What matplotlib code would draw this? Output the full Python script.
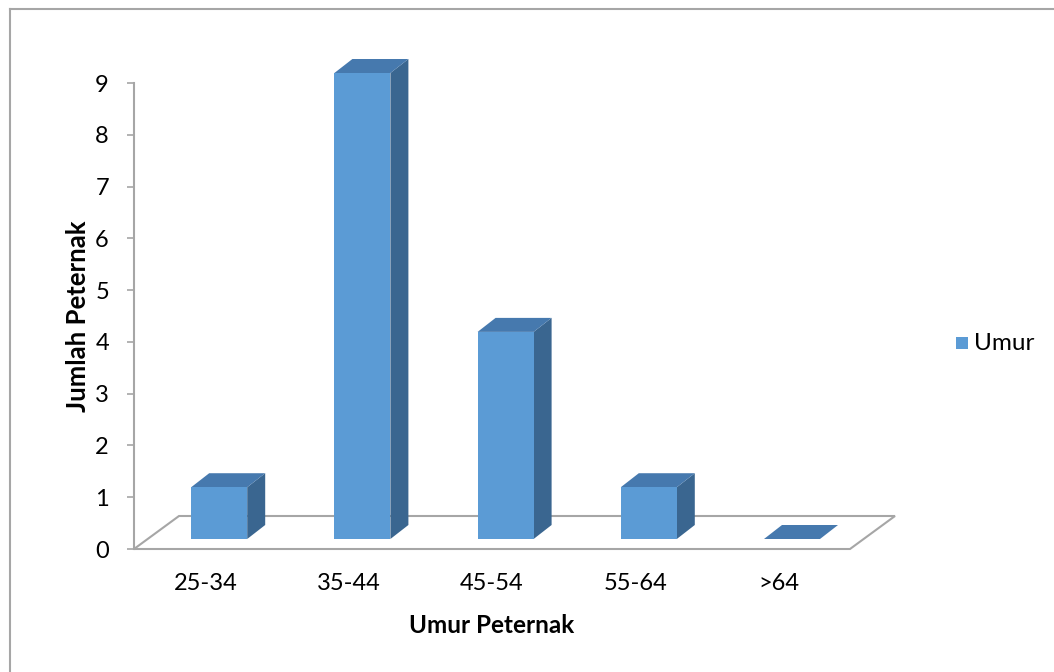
import matplotlib
matplotlib.use("Agg")
import matplotlib.pyplot as plt
from matplotlib.patches import Polygon, Rectangle
from matplotlib.lines import Line2D

categories = ["25-34", "35-44", "45-54", "55-64", ">64"]
counts = [1, 9, 4, 1, 0]
y_ticks = [0, 1, 2, 3, 4, 5, 6, 7, 8, 9]
series_name = "Umur"
x_title = "Umur Peternak"
y_title = "Jumlah Peternak"

FRONT = "#5B9BD5"
TOP = "#4679AE"
SIDE = "#3A6690"
GRID = "#A6A6A6"

plt.rcParams["font.family"] = ["Lato", "DejaVu Sans"]

W, H = 1054, 672
fig = plt.figure(figsize=(W / 100, H / 100), dpi=100)

# plot area: category axis along x, value axis along y
left, right, bottom, top = 134, 850, 549, 83
ax = fig.add_axes([left / W, (H - bottom) / H, (right - left) / W, (bottom - top) / H])
ax.set_xlim(0, len(categories))
ax.set_ylim(0, 9)

px_x = len(categories) / (right - left)   # data units per pixel
px_y = 9 / (bottom - top)

# floor depth and bar depth (oblique projection offsets)
floor_dx, floor_dy = 45 * px_x, 33 * px_y
bar_off_x, bar_off_y = 13.6 * px_x, 10 * px_y
bar_dx, bar_dy = 18 * px_x, 14 * px_y
bar_w = 56 * px_x

n = len(categories)
floor = Polygon([(0, 0), (n, 0), (n + floor_dx, floor_dy), (floor_dx, floor_dy)],
                closed=True, facecolor="white", edgecolor=GRID, linewidth=1.5,
                clip_on=False, zorder=1)
ax.add_patch(floor)

for i, v in enumerate(counts):
    x0 = i + 0.5 - bar_w / 2 + bar_off_x
    y0 = bar_off_y
    x1 = x0 + bar_w
    y1 = y0 + v
    side = Polygon([(x1, y0), (x1 + bar_dx, y0 + bar_dy), (x1 + bar_dx, y1 + bar_dy), (x1, y1)],
                   closed=True, facecolor=SIDE, edgecolor="none", clip_on=False, zorder=3)
    topf = Polygon([(x0, y1), (x0 + bar_dx, y1 + bar_dy), (x1 + bar_dx, y1 + bar_dy), (x1, y1)],
                   closed=True, facecolor=TOP, edgecolor="none", clip_on=False, zorder=3)
    ax.add_patch(side)
    ax.add_patch(topf)
    if v > 0:
        front = Rectangle((x0, y0), bar_w, v, facecolor=FRONT, edgecolor="none",
                          clip_on=False, zorder=4)
        ax.add_patch(front)

for s in ["top", "right", "bottom"]:
    ax.spines[s].set_visible(False)
ax.spines["left"].set_color(GRID)
ax.spines["left"].set_linewidth(1.5)
ax.spines["left"].set_zorder(2)

ax.set_yticks(y_ticks)
ax.tick_params(axis="y", length=5, width=1.2, color=GRID, pad=13, labelsize=17,
               labelcolor="black")
ax.set_xticks([i + 0.5 for i in range(n)])
ax.set_xticklabels(categories)
ax.tick_params(axis="x", length=0, pad=17, labelsize=17, labelcolor="black")

ax.set_xlabel(x_title, fontsize=17.5, fontweight="bold", labelpad=15)
ax.set_ylabel(y_title, fontsize=18.5, fontweight="bold", labelpad=4)
ax.patch.set_visible(False)

# legend
fig.patches.append(Rectangle((956 / W, (H - 349) / H), 12 / W, 12 / H,
                             transform=fig.transFigure, facecolor=FRONT,
                             edgecolor="none"))
fig.text(974 / W, (H - 344) / H, series_name, fontsize=17.5, va="center", ha="left")

# chart border
fig.add_artist(Line2D([10 / W, 1.0], [(H - 9) / H, (H - 9) / H], color=GRID,
                      linewidth=1.5, transform=fig.transFigure))
fig.add_artist(Line2D([10 / W, 10 / W], [0, (H - 9) / H], color=GRID,
                      linewidth=1.5, transform=fig.transFigure))

fig.savefig("out.png", dpi=100, facecolor="white")
